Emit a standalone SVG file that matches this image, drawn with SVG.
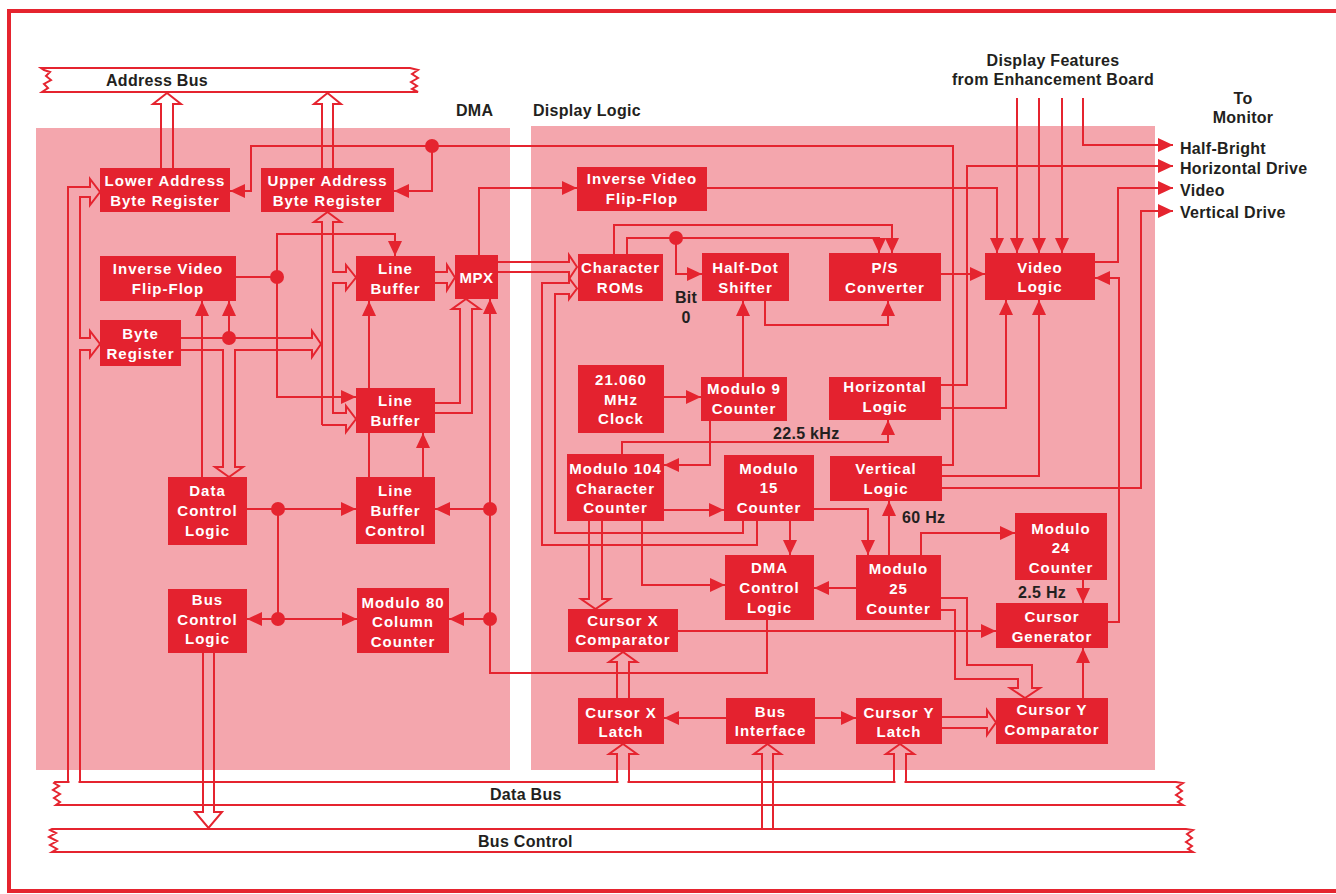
<svg xmlns="http://www.w3.org/2000/svg" width="1336" height="894" viewBox="0 0 1336 894">
<defs>
<style>
.p{fill:#f4a6ad}
.b{fill:#e4222f}
.c path{fill:none;stroke:#e5242f;stroke-width:2}
.c path.a{marker-end:url(#ah)}
.d{fill:#e5242f}
.t{font-family:"Liberation Sans",Arial,Helvetica,sans-serif;font-weight:bold;font-size:15px;letter-spacing:1px;fill:#fff;text-anchor:middle}
.l{font-family:"Liberation Sans",Arial,Helvetica,sans-serif;font-weight:bold;font-size:16px;letter-spacing:0.3px;fill:#231f20}
.m{text-anchor:middle}
.r{fill:#fff;stroke:#e5242f;stroke-width:2}
.g{fill:none;stroke:#fff;stroke-width:3}
</style>
<marker id="ah" markerWidth="15" markerHeight="14" refX="15" refY="7" orient="auto" markerUnits="userSpaceOnUse"><path d="M0,0L15,7L0,14Z" fill="#e5242f"/></marker>
</defs>
<rect width="1336" height="894" fill="#fff"/>
<rect x="9" y="11" width="1340" height="880" fill="none" stroke="#e5242f" stroke-width="4"/>
<g id="panels">
<rect class="p" x="36" y="128" width="474" height="642"/>
<rect class="p" x="531" y="126" width="624" height="644"/>
</g>
<g id="buses">
<path id="address-bus" class="r" d="M41,68H410L418,70L412,74L418,78L411,82L417,86L412,89L418,92H42L48,88L44,84L51,80L46,76L50,72L44,70Z"/>
<path id="data-bus" class="r" d="M55,782H1176L1183,783L1177,787L1182,791L1176,795L1182,799L1178,802L1183,805H56L60,802L54,798L60,794L53,790L59,786L54,783Z"/>
<path id="bus-control" class="r" d="M52,829H1186L1193,830L1187,834L1192,838L1186,842L1192,846L1188,849L1193,852H52L57,849L50,845L57,841L49,837L56,833L50,830Z"/>
</g>
<g id="connectors" class="c">
<path d="M161,168V104H153L167,93L181,104H173V168"/>
<path d="M322,168V104H314L327.5,93L341,104H333V168"/>
<path d="M68,782V187H90V179L100,192L90,205V197H80V338H90V331L100,344L90,357V350H80V782"/>
<path d="M181,338H312V331L321,344L312,357V350H235V467H243L229,477L215,467H223V350H181"/>
<path class="a" d="M229,338V301"/>
<path class="a" d="M202,477V301"/>
<path d="M236,277H277"/>
<path class="a" d="M277,277V234H395V256"/>
<path class="a" d="M277,277V397H356"/>
<path d="M322,425V222H314L327.5,212L341,222H333V272H346V265L356,277.5L346,290V283H333V413H346V406L356,419L346,432V425H322"/>
<path d="M435,272H447V265L455,277.5L447,290V283H435"/>
<path d="M435,403H460V309H452L466,299L480,309H472V413H435"/>
<path class="a" d="M369,477V301"/>
<path class="a" d="M423,477V433"/>
<path class="a" d="M247,509H356"/>
<path d="M278,509V619"/>
<path class="a" d="M278,619H247"/>
<path class="a" d="M278,619H357"/>
<path class="a" d="M767,620V673H490V299"/>
<path class="a" d="M490,509H435"/>
<path class="a" d="M490,619H449"/>
<path d="M203,653V812H195L208.5,828L222,812H214V653"/>
<path class="a" d="M942,465H953V146H251V191H230"/>
<path class="a" d="M432,146V191H394"/>
<path class="a" d="M479,255V188H577"/>
<path d="M498,262H569V255L577,267L569,279V272H498"/>
<path d="M757,521V545H542V283H569V278L577,288.5L569,299V294H555V533H743V521"/>
<path class="a" d="M614,254V225H892V253"/>
<path class="a" d="M627,254V238H879V253"/>
<path class="a" d="M676,238V274H702"/>
<path class="a" d="M765,301V325H888V301"/>
<path class="a" d="M743,377V301"/>
<path class="a" d="M664,397H701"/>
<path class="a" d="M710,421V465H664"/>
<path class="a" d="M622,454V442H888V420"/>
<path class="a" d="M664,510H724"/>
<path class="a" d="M790,521V555"/>
<path class="a" d="M814,509H868V555"/>
<path class="a" d="M889,555V501"/>
<path class="a" d="M921,555V533H1015"/>
<path class="a" d="M1083,580V603"/>
<path class="a" d="M856,588H814"/>
<path d="M941,598H967V665H1032V688H1040L1025,698L1010,688H1018V679H955V610H941"/>
<path class="a" d="M678,631H996"/>
<path class="a" d="M1083,698V648"/>
<path d="M942,717H987V710L996,722.5L987,735V728H942"/>
<path class="a" d="M726,718H664"/>
<path class="a" d="M815,718H856"/>
<path d="M617,782V754H609L623,744L637,754H629V782"/>
<path d="M617,698V662H609L623,652L637,662H629V698"/>
<path d="M762,829V754H754L767.5,744L781,754H773V829"/>
<path d="M894,782V754H886L900,744L914,754H906V782"/>
<path d="M589,521V599H581L595.5,609L610,599H602V521"/>
<path class="a" d="M642,521V585H725"/>
<path class="a" d="M707,188H997V253"/>
<path class="a" d="M941,274H985"/>
<path class="a" d="M941,385H967V166H1173"/>
<path class="a" d="M941,408H1006V300"/>
<path class="a" d="M942,476H1039V300"/>
<path class="a" d="M942,488H1141V211H1173"/>
<path class="a" d="M1095,262H1118V188H1173"/>
<path class="a" d="M1108,622H1119V278H1095"/>
<path class="a" d="M1017,98V253"/>
<path class="a" d="M1039,98V253"/>
<path class="a" d="M1062,98V253"/>
<path class="a" d="M1083,98V145H1173"/>
<g>
<circle class="d" cx="432" cy="146" r="7"/>
<circle class="d" cx="277" cy="277" r="7"/>
<circle class="d" cx="229" cy="338" r="7"/>
<circle class="d" cx="278" cy="509" r="7"/>
<circle class="d" cx="278" cy="619" r="7"/>
<circle class="d" cx="490" cy="509" r="7"/>
<circle class="d" cx="490" cy="619" r="7"/>
<circle class="d" cx="676" cy="238" r="7"/>
</g>
</g>
<path class="g" d="M69.5,782H78.5M618.5,782H627.5M895.5,782H904.5"/>
<g id="lower-address-byte-register"><rect class="b" x="100" y="168" width="130" height="44"/><text class="t"><tspan x="165" y="185.5">Lower Address</tspan><tspan x="165" y="205.5">Byte Register</tspan></text></g>
<g id="upper-address-byte-register"><rect class="b" x="261" y="168" width="133" height="44"/><text class="t"><tspan x="327.5" y="185.5">Upper Address</tspan><tspan x="327.5" y="205.5">Byte Register</tspan></text></g>
<g id="inverse-video-ff-dma"><rect class="b" x="100" y="256" width="136" height="45"/><text class="t"><tspan x="168" y="274">Inverse Video</tspan><tspan x="168" y="294">Flip-Flop</tspan></text></g>
<g id="byte-register"><rect class="b" x="100" y="320" width="81" height="46"/><text class="t"><tspan x="140.5" y="338.5">Byte</tspan><tspan x="140.5" y="358.5">Register</tspan></text></g>
<g id="line-buffer-1"><rect class="b" x="356" y="256" width="79" height="45"/><text class="t"><tspan x="395.5" y="274">Line</tspan><tspan x="395.5" y="294">Buffer</tspan></text></g>
<g id="mpx"><rect class="b" x="455" y="255" width="43" height="44"/><text class="t" x="476.5" y="282.5" style="letter-spacing:0.5px">MPX</text></g>
<g id="line-buffer-2"><rect class="b" x="356" y="388" width="79" height="45"/><text class="t"><tspan x="395.5" y="406">Line</tspan><tspan x="395.5" y="426">Buffer</tspan></text></g>
<g id="data-control-logic"><rect class="b" x="168" y="477" width="79" height="68"/><text class="t"><tspan x="207.5" y="495.5">Data</tspan><tspan x="207.5" y="515.5">Control</tspan><tspan x="207.5" y="535.5">Logic</tspan></text></g>
<g id="line-buffer-control"><rect class="b" x="356" y="477" width="79" height="67"/><text class="t"><tspan x="395.5" y="495.5">Line</tspan><tspan x="395.5" y="515.5">Buffer</tspan><tspan x="395.5" y="535.5">Control</tspan></text></g>
<g id="bus-control-logic"><rect class="b" x="168" y="589" width="79" height="64"/><text class="t"><tspan x="207.5" y="605">Bus</tspan><tspan x="207.5" y="624.5">Control</tspan><tspan x="207.5" y="644">Logic</tspan></text></g>
<g id="modulo-80-column-counter"><rect class="b" x="357" y="588" width="92" height="65"/><text class="t"><tspan x="403" y="607.5">Modulo 80</tspan><tspan x="403" y="626.5">Column</tspan><tspan x="403" y="646.5">Counter</tspan></text></g>
<g id="inverse-video-ff-dl"><rect class="b" x="577" y="167" width="130" height="44"/><text class="t"><tspan x="642" y="184">Inverse Video</tspan><tspan x="642" y="203.5">Flip-Flop</tspan></text></g>
<g id="character-roms"><rect class="b" x="578" y="254" width="85" height="47"/><text class="t"><tspan x="620.5" y="272.5">Character</tspan><tspan x="620.5" y="292.5">ROMs</tspan></text></g>
<g id="half-dot-shifter"><rect class="b" x="702" y="253" width="87" height="48"/><text class="t"><tspan x="745.5" y="272.5">Half-Dot</tspan><tspan x="745.5" y="292.5">Shifter</tspan></text></g>
<g id="ps-converter"><rect class="b" x="829" y="253" width="112" height="48"/><text class="t"><tspan x="885" y="272.5">P/S</tspan><tspan x="885" y="292.5">Converter</tspan></text></g>
<g id="video-logic"><rect class="b" x="985" y="253" width="110" height="47"/><text class="t"><tspan x="1040" y="272.5">Video</tspan><tspan x="1040" y="291.5">Logic</tspan></text></g>
<g id="clock"><rect class="b" x="578" y="365" width="86" height="68"/><text class="t"><tspan x="621" y="384.5">21.060</tspan><tspan x="621" y="404.5">MHz</tspan><tspan x="621" y="423.5">Clock</tspan></text></g>
<g id="modulo-9-counter"><rect class="b" x="701" y="377" width="86" height="44"/><text class="t"><tspan x="744" y="393.5">Modulo 9</tspan><tspan x="744" y="413.5">Counter</tspan></text></g>
<g id="horizontal-logic"><rect class="b" x="829" y="377" width="112" height="43"/><text class="t"><tspan x="885" y="391.5">Horizontal</tspan><tspan x="885" y="411.5">Logic</tspan></text></g>
<g id="modulo-104-character-counter"><rect class="b" x="567" y="454" width="97" height="67"/><text class="t"><tspan x="615.5" y="473.5">Modulo 104</tspan><tspan x="615.5" y="493.5">Character</tspan><tspan x="615.5" y="512.5">Counter</tspan></text></g>
<g id="modulo-15-counter"><rect class="b" x="724" y="455" width="90" height="66"/><text class="t"><tspan x="769" y="473.5">Modulo</tspan><tspan x="769" y="493">15</tspan><tspan x="769" y="512.5">Counter</tspan></text></g>
<g id="vertical-logic"><rect class="b" x="830" y="456" width="112" height="45"/><text class="t"><tspan x="886" y="473.5">Vertical</tspan><tspan x="886" y="493.5">Logic</tspan></text></g>
<g id="modulo-24-counter"><rect class="b" x="1015" y="513" width="92" height="67"/><text class="t"><tspan x="1061" y="533.5">Modulo</tspan><tspan x="1061" y="552.5">24</tspan><tspan x="1061" y="572.5">Counter</tspan></text></g>
<g id="dma-control-logic"><rect class="b" x="725" y="555" width="89" height="65"/><text class="t"><tspan x="769.5" y="572.5">DMA</tspan><tspan x="769.5" y="592.5">Control</tspan><tspan x="769.5" y="612.5">Logic</tspan></text></g>
<g id="modulo-25-counter"><rect class="b" x="856" y="555" width="85" height="65"/><text class="t"><tspan x="898.5" y="573.5">Modulo</tspan><tspan x="898.5" y="593.5">25</tspan><tspan x="898.5" y="613.5">Counter</tspan></text></g>
<g id="cursor-generator"><rect class="b" x="996" y="603" width="112" height="45"/><text class="t"><tspan x="1052" y="621.5">Cursor</tspan><tspan x="1052" y="641.5">Generator</tspan></text></g>
<g id="cursor-x-comparator"><rect class="b" x="568" y="609" width="110" height="43"/><text class="t"><tspan x="623" y="625.5">Cursor X</tspan><tspan x="623" y="644.5">Comparator</tspan></text></g>
<g id="cursor-x-latch"><rect class="b" x="578" y="698" width="86" height="46"/><text class="t"><tspan x="621" y="717.5">Cursor X</tspan><tspan x="621" y="736.5">Latch</tspan></text></g>
<g id="bus-interface"><rect class="b" x="726" y="698" width="89" height="46"/><text class="t"><tspan x="770.5" y="716.5">Bus</tspan><tspan x="770.5" y="735.5">Interface</tspan></text></g>
<g id="cursor-y-latch"><rect class="b" x="856" y="698" width="86" height="46"/><text class="t"><tspan x="899" y="717.5">Cursor Y</tspan><tspan x="899" y="736.5">Latch</tspan></text></g>
<g id="cursor-y-comparator"><rect class="b" x="996" y="698" width="112" height="46"/><text class="t"><tspan x="1052" y="714.5">Cursor Y</tspan><tspan x="1052" y="734.5">Comparator</tspan></text></g>
<g id="labels">
<text class="l" x="106" y="86">Address Bus</text>
<text class="l" x="456" y="116">DMA</text>
<text class="l" x="533" y="116">Display Logic</text>
<text class="l m" x="1053" y="66">Display Features</text>
<text class="l m" x="1053" y="85">from Enhancement Board</text>
<text class="l m" x="1243" y="104">To</text>
<text class="l m" x="1243" y="123">Monitor</text>
<text class="l" x="1180" y="154">Half-Bright</text>
<text class="l" x="1180" y="174">Horizontal Drive</text>
<text class="l" x="1180" y="196">Video</text>
<text class="l" x="1180" y="218">Vertical Drive</text>
<text class="l m" x="686" y="303">Bit</text>
<text class="l m" x="686" y="323">0</text>
<text class="l" x="773" y="439">22.5 kHz</text>
<text class="l" x="902" y="523">60 Hz</text>
<text class="l" x="1018" y="598">2.5 Hz</text>
<text class="l" x="490" y="800">Data Bus</text>
<text class="l" x="478" y="847">Bus Control</text>
</g>
</svg>
